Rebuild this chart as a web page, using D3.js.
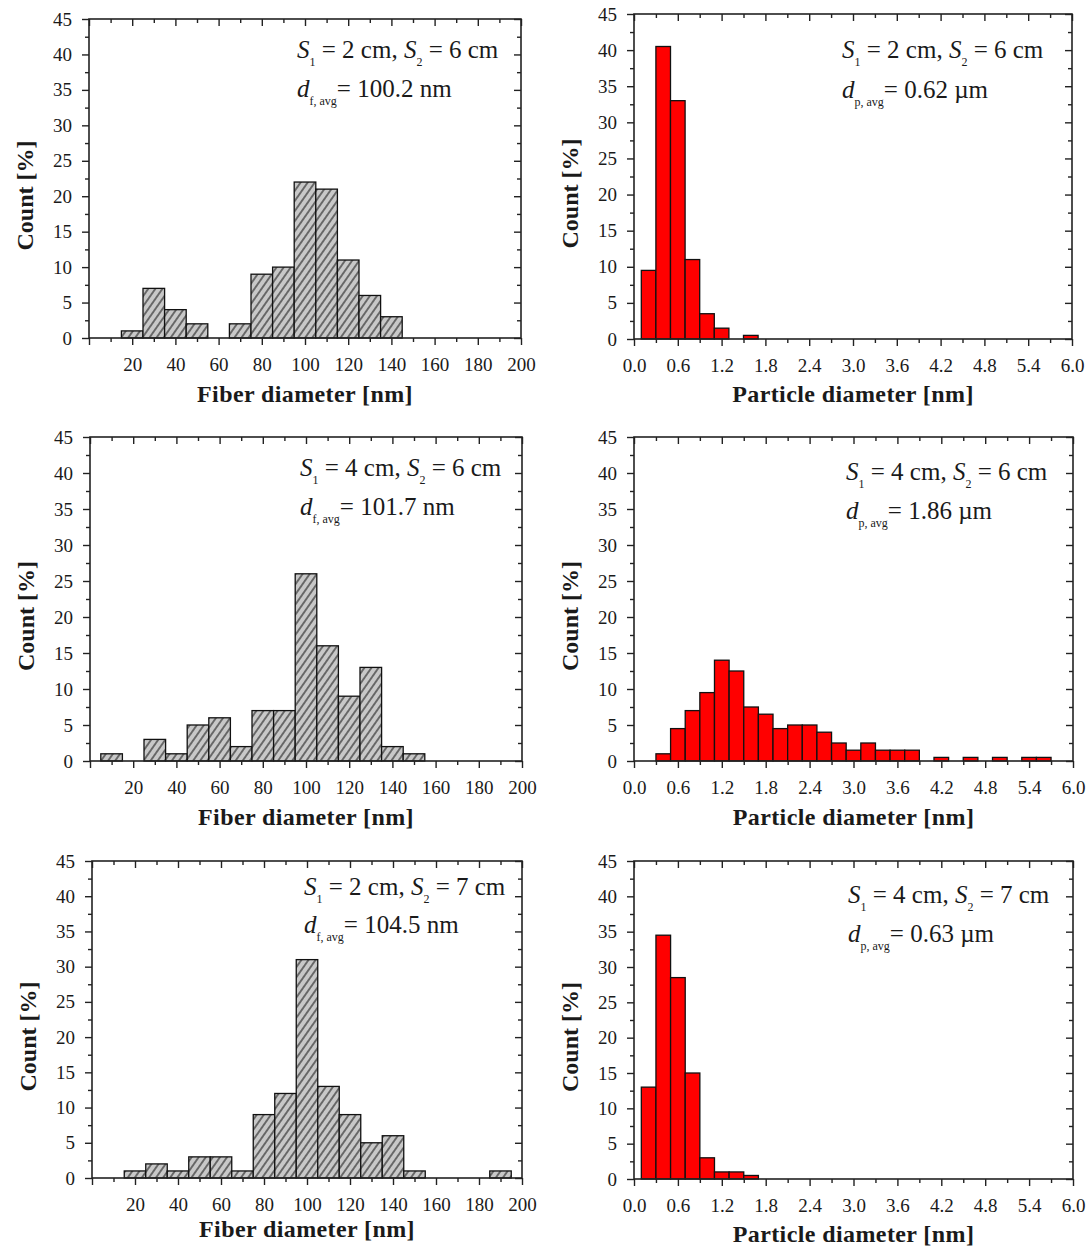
<!DOCTYPE html>
<html>
<head>
<meta charset="utf-8">
<script src="https://cdn.jsdelivr.net/npm/d3@7"></script>
<style>
  body { margin: 0; background: #fff; }
  svg { display: block; }
  text { font-family: "Liberation Serif", "Times New Roman", serif; fill: #1a1a1a; }
</style>
</head>
<body>
<svg id="fig" width="1089" height="1250"></svg>
<script>
// ---- axis ticks ----
const countTicks = [0, 5, 10, 15, 20, 25, 30, 35, 40, 45];
const countMinor = [2.5, 7.5, 12.5, 17.5, 22.5, 27.5, 32.5, 37.5, 42.5];
const fiberTicks = [20, 40, 60, 80, 100, 120, 140, 160, 180, 200];
const fiberMinor = [10, 30, 50, 70, 90, 110, 130, 150, 170, 190];
const particleTicks = [0.0, 0.6, 1.2, 1.8, 2.4, 3.0, 3.6, 4.2, 4.8, 5.4, 6.0];
const particleMinor = [0.3, 0.9, 1.5, 2.1, 2.7, 3.3, 3.9, 4.5, 5.1, 5.7];

// ---- fiber diameter histograms (bin centres in nm, bin width 10 nm) ----
const fiberCenters1 = [20, 30, 40, 50, 70, 80, 90, 100, 110, 120, 130, 140];
const fiberCounts1  = [1, 7, 4, 2, 2, 9, 10, 22, 21, 11, 6, 3];
const fiberCenters2 = [10, 30, 40, 50, 60, 70, 80, 90, 100, 110, 120, 130, 140, 150];
const fiberCounts2  = [1, 3, 1, 5, 6, 2, 7, 7, 26, 16, 9, 13, 2, 1];
const fiberCenters3 = [20, 30, 40, 50, 60, 70, 80, 90, 100, 110, 120, 130, 140, 150, 190];
const fiberCounts3  = [1, 2, 1, 3, 3, 1, 9, 12, 31, 13, 9, 5, 6, 1, 1];

// ---- particle diameter histograms (bin centres, bin width 0.2) ----
const particleCenters1 = [0.2, 0.4, 0.6, 0.8, 1.0, 1.2, 1.6];
const particleCounts1  = [9.5, 40.5, 33, 11, 3.5, 1.5, 0.5];
const particleCenters2 = [0.4, 0.6, 0.8, 1.0, 1.2, 1.4, 1.6, 1.8, 2.0, 2.2, 2.4, 2.6, 2.8, 3.0,
                          3.2, 3.4, 3.6, 3.8, 4.2, 4.6, 5.0, 5.4, 5.6];
const particleCounts2  = [1, 4.5, 7, 9.5, 14, 12.5, 7.5, 6.5, 4.5, 5, 5, 4, 2.5, 1.5,
                          2.5, 1.5, 1.5, 1.5, 0.5, 0.5, 0.5, 0.5, 0.5];
const particleCenters3 = [0.2, 0.4, 0.6, 0.8, 1.0, 1.2, 1.4, 1.6];
const particleCounts3  = [13, 34.5, 28.5, 15, 3, 1, 1, 0.5];

// ---- conditions and mean diameters ----
const fiberS1 = [2, 4, 2];
const fiberS2 = [6, 6, 7];
const fiberAvg = ["100.2", "101.7", "104.5"];
const particleS1 = [2, 4, 4];
const particleS2 = [6, 6, 7];
const particleAvg = ["0.62", "1.86", "0.63"];

const svg = d3.select("#fig");

// hatch for fiber bars
const defs = svg.append("defs");
const pat = defs.append("pattern")
  .attr("id", "hatch")
  .attr("patternUnits", "userSpaceOnUse")
  .attr("width", 5.8).attr("height", 10)
  .attr("patternTransform", "rotate(35)");
pat.append("rect").attr("width", 5.8).attr("height", 10).attr("fill", "#c8c8c8");
pat.append("line").attr("x1", 2.9).attr("x2", 2.9).attr("y1", -1).attr("y2", 11)
  .attr("stroke", "#1e1e1e").attr("stroke-width", 1.1);

const fiberPanels = [
  { left: 89, right: 521, top: 19, bottom: 338, ann: [297, 58, 97], xt: 402 },
  { left: 90, right: 522, top: 437, bottom: 761, ann: [300, 476, 515], xt: 825 },
  { left: 92, right: 522, top: 861, bottom: 1178, ann: [304, 895, 933], xt: 1237 }
];
const particlePanels = [
  { left: 634, right: 1072, top: 14, bottom: 339, ann: [842, 58, 98], xt: 402 },
  { left: 634, right: 1073, top: 437, bottom: 761, ann: [846, 480, 519], xt: 825 },
  { left: 634, right: 1073, top: 861, bottom: 1179, ann: [848, 903, 942], xt: 1242 }
];

function addRich(g, x0, y0, parts) {
  const t = g.append("text").attr("x", x0).attr("y", y0)
    .attr("font-size", 25).attr("xml:space", "preserve");
  let shift = 0;
  parts.forEach(p => {
    const s = t.append("tspan").text(p.t);
    if (p.i) s.attr("font-style", "italic");
    if (p.sub) {
      s.attr("font-size", 12).attr("dy", 8 - shift);
      shift = 8;
    } else if (shift) {
      s.attr("dy", -shift);
      shift = 0;
    }
  });
}

function drawPanel(p, cfg) {
  const g = svg.append("g");
  const x = d3.scaleLinear().domain(cfg.xDomain).range([p.left, p.right]);
  const y = d3.scaleLinear().domain([0, 45]).range([p.bottom, p.top]);
  const half = cfg.bin / 2;

  const bars = d3.zip(cfg.centers, cfg.counts);
  g.selectAll("rect.bar").data(bars).join("rect")
    .attr("class", "bar")
    .attr("x", d => x(d[0] - half))
    .attr("width", d => x(d[0] + half) - x(d[0] - half))
    .attr("y", d => y(d[1]))
    .attr("height", d => y(0) - y(d[1]))
    .attr("fill", cfg.fill)
    .attr("stroke", "#111")
    .attr("stroke-width", 1.3);

  const axStyle = sel => {
    sel.select(".domain").remove();
    sel.selectAll(".tick line").attr("stroke", "#222").attr("stroke-width", 1.4);
    sel.selectAll(".tick text").attr("font-size", 19).attr("fill", "#1a1a1a")
      .attr("font-family", "Liberation Serif, Times New Roman, serif");
  };

  // left (outward) and right (inward) count axes
  g.append("g").attr("transform", `translate(${p.left},0)`)
    .call(d3.axisLeft(y).tickValues(countTicks).tickSize(7).tickPadding(10)).call(axStyle);
  g.append("g").attr("transform", `translate(${p.left},0)`)
    .call(d3.axisLeft(y).tickValues(countMinor).tickSize(4).tickFormat("")).call(axStyle);
  g.append("g").attr("transform", `translate(${p.right},0)`)
    .call(d3.axisRight(y).tickValues(countTicks).tickSize(-7).tickFormat("")).call(axStyle);
  g.append("g").attr("transform", `translate(${p.right},0)`)
    .call(d3.axisRight(y).tickValues(countMinor).tickSize(-4).tickFormat("")).call(axStyle);

  // bottom (outward) and top (inward) diameter axes
  g.append("g").attr("transform", `translate(0,${p.bottom})`)
    .call(d3.axisBottom(x).tickValues(cfg.major).tickSize(7).tickPadding(13).tickFormat(cfg.fmt))
    .call(axStyle);
  g.append("g").attr("transform", `translate(0,${p.bottom})`)
    .call(d3.axisBottom(x).tickValues(cfg.minor).tickSize(4).tickFormat("")).call(axStyle);
  g.append("g").attr("transform", `translate(0,${p.top})`)
    .call(d3.axisTop(x).tickValues(cfg.major).tickSize(-7).tickFormat("")).call(axStyle);
  g.append("g").attr("transform", `translate(0,${p.top})`)
    .call(d3.axisTop(x).tickValues(cfg.minor).tickSize(-4).tickFormat("")).call(axStyle);

  // frame
  g.append("rect")
    .attr("x", p.left).attr("y", p.top)
    .attr("width", p.right - p.left).attr("height", p.bottom - p.top)
    .attr("fill", "none").attr("stroke", "#222").attr("stroke-width", 1.6);

  // axis titles
  g.append("text")
    .attr("x", (p.left + p.right) / 2).attr("y", p.xt)
    .attr("text-anchor", "middle").attr("font-size", 24).attr("font-weight", "bold")
    .attr("letter-spacing", 0.4)
    .text(cfg.xTitle);
  const cy = (p.top + p.bottom) / 2 + 17;
  g.append("text")
    .attr("transform", `translate(${p.left - 56},${cy}) rotate(-90)`)
    .attr("text-anchor", "middle").attr("font-size", 24).attr("font-weight", "bold")
    .text("Count [%]");

  // condition labels
  addRich(g, p.ann[0], p.ann[1], [
    { t: "S", i: 1 }, { t: "1", sub: 1 }, { t: " = " + cfg.s1 + " cm, " },
    { t: "S", i: 1 }, { t: "2", sub: 1 }, { t: " = " + cfg.s2 + " cm" }
  ]);
  addRich(g, p.ann[0], p.ann[2], [
    { t: "d", i: 1 }, { t: cfg.subAvg, sub: 1 }, { t: "= " + cfg.avg }
  ]);
}

const fiberData = [[fiberCenters1, fiberCounts1], [fiberCenters2, fiberCounts2], [fiberCenters3, fiberCounts3]];
const particleData = [[particleCenters1, particleCounts1], [particleCenters2, particleCounts2], [particleCenters3, particleCounts3]];

fiberPanels.forEach((p, i) => drawPanel(p, {
  xDomain: [0, 200], bin: 10, fill: "url(#hatch)",
  centers: fiberData[i][0], counts: fiberData[i][1],
  major: [0].concat(fiberTicks), minor: fiberMinor,
  fmt: d => (d === 0 ? "" : d3.format("d")(d)),
  xTitle: "Fiber diameter [nm]",
  s1: fiberS1[i], s2: fiberS2[i], subAvg: "f, avg", avg: fiberAvg[i] + " nm"
}));

particlePanels.forEach((p, i) => drawPanel(p, {
  xDomain: [0, 6], bin: 0.2, fill: "#ff0000",
  centers: particleData[i][0], counts: particleData[i][1],
  major: particleTicks, minor: particleMinor,
  fmt: d3.format(".1f"),
  xTitle: "Particle diameter [nm]",
  s1: particleS1[i], s2: particleS2[i], subAvg: "p, avg", avg: particleAvg[i] + " \u00b5m"
}));
</script>
</body>
</html>
